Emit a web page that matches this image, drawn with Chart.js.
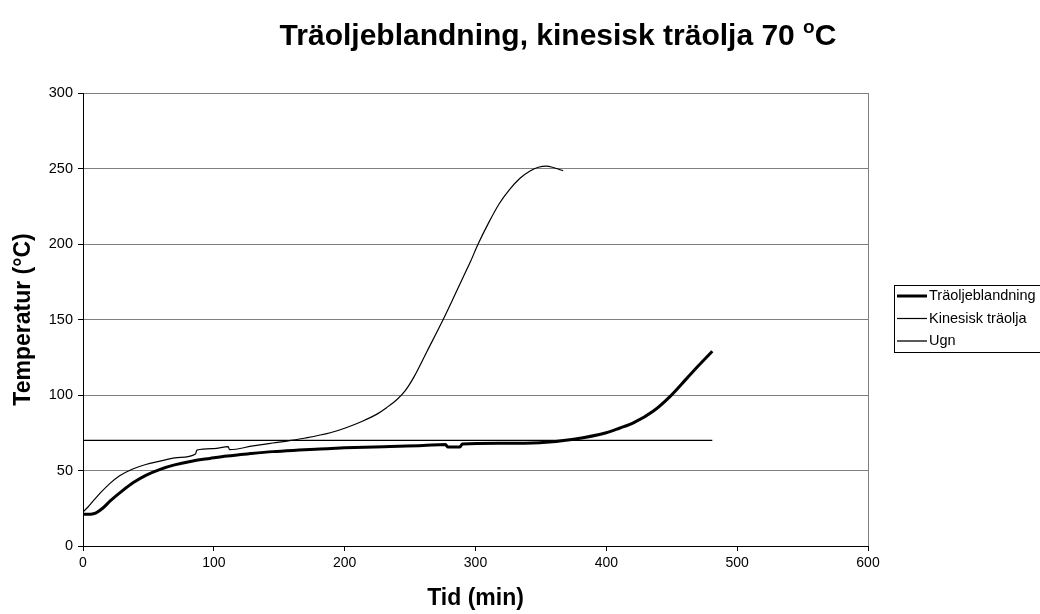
<!DOCTYPE html>
<html>
<head>
<meta charset="utf-8">
<script src="https://cdn.jsdelivr.net/npm/chart.js@4/dist/chart.umd.min.js"></script>
<style>
  html, body { margin: 0; padding: 0; background: #fff; }
  #wrap { width: 1040px; height: 614px; }
</style>
</head>
<body>
<div id="wrap"><canvas id="diagram"></canvas></div>
<script>
// Träoljeblandning (tjock linje)
const blandTid  = [0, 6, 10, 15, 21, 30, 38.5, 48, 59, 70, 84, 97, 110, 128, 145, 165, 181, 200, 230, 260, 277, 279, 288, 290, 319, 349, 375, 400, 410, 421, 436, 449, 461.5, 470, 481];
const blandTemp = [21, 21.1, 22, 25, 30, 36.5, 42, 46.8, 50.8, 53.7, 56.3, 58, 59.6, 61.2, 62.5, 63.5, 64.2, 65, 65.8, 66.5, 67.2, 65.5, 65.5, 67.5, 68, 68.4, 70.7, 75, 78, 81.7, 89.4, 99.3, 111, 119, 129];

// Kinesisk träolja
const kinTid  = [0, 4, 8, 14, 20, 28, 38, 48, 58, 72, 86, 87, 100, 111, 112, 130, 145, 158, 170, 189, 200, 214, 225, 232, 240, 246, 253, 263, 275, 283, 290, 296, 302, 310, 318, 326, 334, 342, 348, 354, 360, 367];
const kinTemp = [22.5, 26, 30, 35.8, 41, 46.5, 51, 54, 56, 58.5, 61, 63.5, 64.5, 65.8, 63.8, 66.3, 68.2, 69.8, 71.5, 75, 78, 82.8, 87.5, 91.6, 97, 102.5, 112, 129, 149.5, 164, 177, 188, 200, 214, 226.5, 236, 243.5, 248.5, 250.8, 251.6, 250.5, 248.5];

// Ugn
const ugnTid  = [0, 481];
const ugnTemp = [70, 70];

const xTicks = [0, 100, 200, 300, 400, 500, 600];
const yTicks = [0, 50, 100, 150, 200, 250, 300];

const FONT = '"Liberation Sans", Arial, sans-serif';

const toPoints = (xs, ys) => xs.map((x, i) => ({ x: x, y: ys[i] }));

// title with superscript o, drawn straight on the canvas
const titlePlugin = {
  id: 'tittel',
  afterDraw(chart) {
    const ctx = chart.ctx;
    const main = 'Träoljeblandning, kinesisk träolja 70 ';
    ctx.save();
    ctx.fillStyle = '#000';
    ctx.textBaseline = 'alphabetic';
    ctx.font = 'bold 30px ' + FONT;
    const w1 = ctx.measureText(main).width;
    const wC = ctx.measureText('C').width;
    ctx.font = 'bold 19px ' + FONT;
    const wO = ctx.measureText('o').width;
    const total = w1 + wO + wC;
    let x = 558 - total / 2;
    const base = 45;
    ctx.font = 'bold 30px ' + FONT;
    ctx.fillText(main, x, base);
    x += w1;
    ctx.font = 'bold 19px ' + FONT;
    ctx.fillText('o', x, base - 12);
    x += wO;
    ctx.font = 'bold 30px ' + FONT;
    ctx.fillText('C', x, base);
    ctx.restore();
  }
};

// boxed legend to the right of the plot
const legendPlugin = {
  id: 'forklaring',
  afterDraw(chart) {
    const ctx = chart.ctx;
    ctx.save();
    ctx.strokeStyle = '#000';
    ctx.lineWidth = 1;
    ctx.strokeRect(894.5, 285.5, 160, 67);
    ctx.font = '14.5px ' + FONT;
    ctx.fillStyle = '#000';
    ctx.textBaseline = 'middle';
    chart.data.datasets.forEach((ds, i) => {
      const y = 296 + i * 22.5;
      ctx.beginPath();
      ctx.lineWidth = ds.borderWidth;
      ctx.moveTo(897, y);
      ctx.lineTo(927, y);
      ctx.stroke();
      ctx.fillText(ds.label, 929, y);
    });
    ctx.restore();
  }
};

new Chart(document.getElementById('diagram'), {
  type: 'line',
  data: {
    datasets: [
      {
        label: 'Träoljeblandning',
        data: toPoints(blandTid, blandTemp),
        borderColor: '#000',
        borderWidth: 3,
        pointRadius: 0,
        cubicInterpolationMode: 'monotone'
      },
      {
        label: 'Kinesisk träolja',
        data: toPoints(kinTid, kinTemp),
        borderColor: '#000',
        borderWidth: 1.2,
        pointRadius: 0,
        cubicInterpolationMode: 'monotone'
      },
      {
        label: 'Ugn',
        data: toPoints(ugnTid, ugnTemp),
        borderColor: '#000',
        borderWidth: 1.3,
        pointRadius: 0
      }
    ]
  },
  options: {
    responsive: true,
    maintainAspectRatio: false,
    animation: false,
    layout: {
      autoPadding: false,
      padding: { top: 93, right: 172, left: 0, bottom: 0 }
    },
    plugins: {
      legend: { display: false },
      title: { display: false },
      tooltip: { enabled: false }
    },
    scales: {
      x: {
        type: 'linear',
        min: 0,
        max: 600,
        afterBuildTicks: (scale) => { scale.ticks = xTicks.map(v => ({ value: v })); },
        afterFit: (scale) => { scale.height = 68; },
        border: { color: '#000', width: 1 },
        grid: {
          drawOnChartArea: true,
          color: (c) => (c.tick && c.tick.value === 600 ? '#808080' : 'rgba(0,0,0,0)'),
          tickColor: '#000',
          tickLength: 5
        },
        ticks: { color: '#000', font: { family: FONT, size: 14 }, padding: 4, maxRotation: 0 },
        title: {
          display: true,
          text: 'Tid (min)',
          color: '#000',
          font: { family: FONT, size: 23, weight: 'bold' },
          padding: { top: 0, bottom: 2 }
        }
      },
      y: {
        min: 0,
        max: 300,
        afterBuildTicks: (scale) => { scale.ticks = yTicks.map(v => ({ value: v })); },
        afterFit: (scale) => { scale.width = 83; },
        border: { color: '#000', width: 1 },
        grid: {
          color: '#808080',
          tickColor: '#000',
          tickLength: 5
        },
        ticks: { color: '#000', font: { family: FONT, size: 14.5 }, padding: 5 },
        title: {
          display: true,
          text: 'Temperatur (°C)',
          color: '#000',
          font: { family: FONT, size: 23, weight: 'bold' },
          padding: { top: 10, bottom: 0 }
        }
      }
    }
  },
  plugins: [titlePlugin, legendPlugin]
});
</script>
</body>
</html>
